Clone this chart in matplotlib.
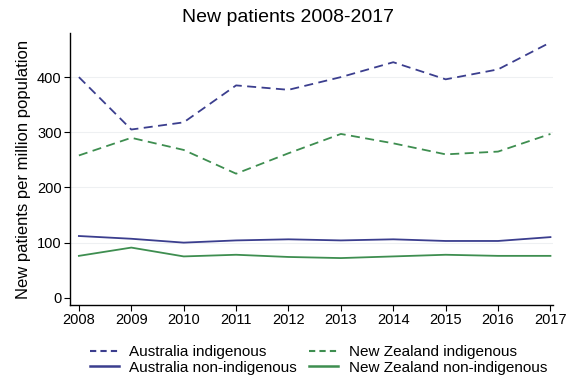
import matplotlib
matplotlib.use("Agg")
import matplotlib.pyplot as plt
from matplotlib.lines import Line2D

plt.rcParams['font.family'] = ['Liberation Sans', 'DejaVu Sans']

years = [2008, 2009, 2010, 2011, 2012, 2013, 2014, 2015, 2016, 2017]
aus_indigenous = [400, 305, 318, 385, 377, 400, 427, 396, 414, 463]
nz_indigenous = [258, 290, 268, 225, 262, 297, 280, 260, 265, 297]
aus_non_indigenous = [112, 107, 100, 104, 106, 104, 106, 103, 103, 110]
nz_non_indigenous = [76, 91, 75, 78, 74, 72, 75, 78, 76, 76]
y_ticks = [0, 100, 200, 300, 400]

aus_color = "#3b3e8e"
nz_color = "#3e8e50"

fig = plt.figure(figsize=(5.69, 3.88), dpi=100)
ax = fig.add_axes([0.123, 0.214, 0.849, 0.701])

for t in y_ticks[1:]:
    ax.axhline(t, color="#eef0f2", lw=0.8, zorder=0)

ax.plot(years, aus_indigenous, color=aus_color, lw=1.3, ls=(0, (5, 3)))
ax.plot(years, nz_indigenous, color=nz_color, lw=1.3, ls=(0, (5, 3)))
ax.plot(years, aus_non_indigenous, color=aus_color, lw=1.3)
ax.plot(years, nz_non_indigenous, color=nz_color, lw=1.3)

ax.set_xlim(2007.83, 2017.05)
ax.set_ylim(-13, 480)
ax.set_xticks(years)
ax.set_yticks(y_ticks)
ax.tick_params(axis='both', labelsize=10.5, length=4, width=0.8, color="black", pad=2)
for s in ['top', 'right']:
    ax.spines[s].set_visible(False)
for s in ['left', 'bottom']:
    ax.spines[s].set_linewidth(1.0)

ax.set_ylabel("New patients per million population", fontsize=12, labelpad=4)
fig.text(0.506, 0.955, "New patients 2008-2017", fontsize=14, ha='center', va='center')

handles = [
    Line2D([], [], color=aus_color, lw=1.5, ls=(0, (3, 2))),
    Line2D([], [], color=aus_color, lw=1.8),
    Line2D([], [], color=nz_color, lw=1.5, ls=(0, (3, 2))),
    Line2D([], [], color=nz_color, lw=1.8),
]
labels = ["Australia indigenous", "Australia non-indigenous",
          "New Zealand indigenous", "New Zealand non-indigenous"]
fig.legend(handles, labels, ncol=2, loc='center', bbox_to_anchor=(0.56, 0.072),
           frameon=False, fontsize=11, handlelength=1.9, columnspacing=0.8,
           handletextpad=0.7, labelspacing=0.08, borderpad=0.2)

fig.savefig("out.png", dpi=100)
